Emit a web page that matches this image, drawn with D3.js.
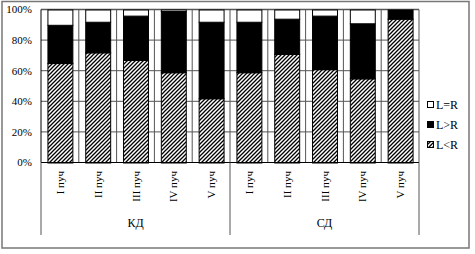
<!DOCTYPE html>
<html>
<head>
<meta charset="utf-8">
<script src="https://cdn.jsdelivr.net/npm/d3@7"></script>
<style>
  body { margin: 0; background: #fff; }
  text { font-family: "Liberation Serif", "Times New Roman", serif; fill: #000; }
</style>
</head>
<body>
<div id="chart"></div>
<script>
// Данные диаграммы
const groups = ["КД", "СД"];
const bundles = ["I пуч", "II пуч", "III пуч", "IV пуч", "V пуч"];
const lessR = [65, 72, 67, 59, 42, 59, 71, 61, 55, 94];   // L<R
const moreR = [25, 20, 29, 40, 50, 33, 23, 35, 36, 6];    // L>R
const equalR = [10, 8, 4, 1, 8, 8, 6, 4, 9, 0];           // L=R
const yTicks = [0, 20, 40, 60, 80, 100];
const legendItems = ["L=R", "L>R", "L<R"];

const width = 475, height = 254;
const plot = { left: 41, right: 419, top: 9.5, bottom: 162.5 };

// Строки для stack
let rows = [];
groups.forEach((g, gi) => {
    bundles.forEach((b, bi) => {
        let i = gi * bundles.length + bi;
        rows.push({ id: g + "|" + b, group: g, label: b, lt: lessR[i], gt: moreR[i], eq: equalR[i] });
    });
});

let svg = d3.select('#chart').append('svg').attr('width', width).attr('height', height);

// Штриховка
let defs = svg.append('defs');
let pat = defs.append('pattern').attr('id', 'hatch')
    .attr('patternUnits', 'userSpaceOnUse').attr('width', 4).attr('height', 4);
pat.append('rect').attr('width', 4).attr('height', 4).attr('fill', '#fff');
pat.append('path').attr('d', 'M-1,1 L1,-1 M0,4 L4,0 M3,5 L5,3')
    .attr('stroke', '#000').attr('stroke-width', 1.3);

// Рамка
svg.append('rect').attr('x', 2).attr('y', 1.5).attr('width', 467).attr('height', 246.5)
    .attr('fill', '#fff').attr('stroke', '#777').attr('stroke-width', 1.5);

let x = d3.scaleBand().domain(rows.map(d => d.id)).range([plot.left, plot.right])
    .paddingInner(0.34).paddingOuter(0.17);
let y = d3.scaleLinear().domain([0, 100]).range([plot.bottom, plot.top]);

// Горизонтальная сетка
svg.append('g').selectAll('line').data(yTicks.slice(1)).enter().append('line')
    .attr('x1', plot.left).attr('x2', plot.right)
    .attr('y1', d => y(d)).attr('y2', d => y(d))
    .attr('stroke', '#555').attr('stroke-width', d => d === 100 ? 1.5 : 1);

// Вертикальная сетка между категориями
let bounds = rows.slice(0, -1).map(d => x(d.id) + x.bandwidth() / 2 + x.step() / 2);
bounds.push(plot.right);
svg.append('g').selectAll('line').data(bounds).enter().append('line')
    .attr('x1', d => d).attr('x2', d => d)
    .attr('y1', plot.top).attr('y2', plot.bottom)
    .attr('stroke', '#555').attr('stroke-width', 1);

// Столбцы
let stack = d3.stack().keys(['lt', 'gt', 'eq']);
let series = stack(rows);
let fills = { lt: 'url(#hatch)', gt: '#000', eq: '#fff' };

svg.append('g').selectAll('g').data(series).enter().append('g')
    .attr('fill', d => fills[d.key])
    .selectAll('rect').data(d => d).enter().append('rect')
    .attr('x', d => x(d.data.id) + 0.5)
    .attr('width', x.bandwidth())
    .attr('y', d => y(d[1]) + 0.5)
    .attr('height', d => Math.max(0, y(d[0]) - y(d[1])))
    .attr('stroke', '#000').attr('stroke-width', 1);

// Ось Y
svg.append('line').attr('x1', plot.left).attr('x2', plot.left)
    .attr('y1', plot.top).attr('y2', plot.bottom).attr('stroke', '#000');
svg.append('line').attr('x1', plot.left).attr('x2', plot.right)
    .attr('y1', plot.bottom).attr('y2', plot.bottom).attr('stroke', '#000');

svg.append('g').selectAll('text').data(yTicks).enter().append('text')
    .attr('x', 32).attr('y', d => y(d)).attr('dy', '0.35em')
    .attr('text-anchor', 'end').style('font-size', '11px')
    .text(d => d + '%');

// Подписи категорий
svg.append('g').selectAll('text').data(rows).enter().append('text')
    .attr('transform', d => `translate(${x(d.id) + x.bandwidth() / 2 + 4},171) rotate(-90)`)
    .attr('text-anchor', 'end').style('font-size', '11px')
    .text(d => d.label);

// Разделители групп
let groupEdges = [plot.left, x(rows[bundles.length].id) - x.step() * 0.17, plot.right];
svg.append('g').selectAll('line').data(groupEdges).enter().append('line')
    .attr('x1', d => d).attr('x2', d => d)
    .attr('y1', plot.bottom).attr('y2', 235)
    .attr('stroke', '#555').attr('stroke-width', 1);

svg.append('g').selectAll('text').data(groups).enter().append('text')
    .attr('x', (d, i) => (groupEdges[i] + groupEdges[i + 1]) / 2)
    .attr('y', 227).attr('text-anchor', 'middle').style('font-size', '12px')
    .text(d => d);

// Легенда
let legendFills = ['#fff', '#000', 'url(#hatch)'];
let legend = svg.append('g').selectAll('g').data(legendItems).enter().append('g')
    .attr('transform', (d, i) => `translate(427,${105 + i * 20})`);
legend.append('rect').attr('x', 0.5).attr('y', -3.5).attr('width', 6).attr('height', 6)
    .attr('fill', (d, i) => legendFills[i]).attr('stroke', '#000');
legend.append('text').attr('x', 9).attr('dy', '0.35em').style('font-size', '12px')
    .text(d => d);
</script>
</body>
</html>
